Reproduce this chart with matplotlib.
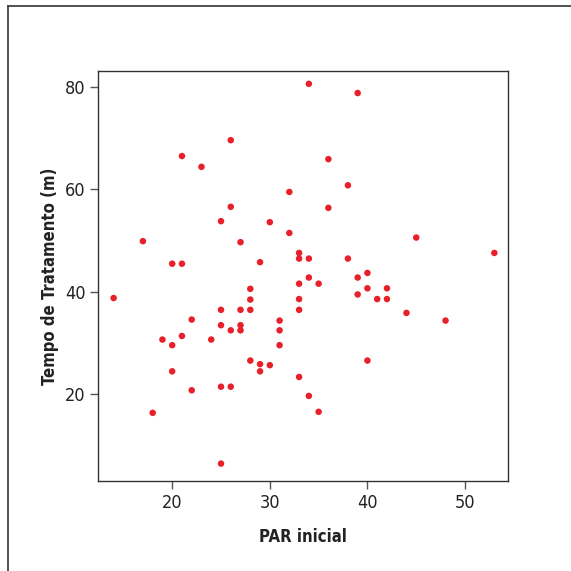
import matplotlib
matplotlib.use("Agg")
import matplotlib.pyplot as plt
from matplotlib.lines import Line2D

plt.rcParams['font.family'] = ['DejaVu Sans']
plt.rcParams['font.stretch'] = 'condensed'

# PAR inicial vs Tempo de Tratamento (m)
par_inicial = [26, 21, 23, 32, 26, 25, 30, 32, 17, 27, 33, 34, 39, 36, 38, 36, 45, 53,
               33, 34, 38, 40, 34, 39, 33, 35, 40, 42, 33, 39, 41, 42, 33, 44, 48, 40,
               33, 34, 35, 20, 21, 29, 14, 28, 28, 25, 27, 28, 22, 31, 25, 27, 26, 27,
               31, 19, 21, 24, 20, 31, 28, 29, 30, 29, 20, 25, 26, 22, 18, 25]
tempo = [69.6, 66.5, 64.4, 59.5, 56.6, 53.8, 53.6, 51.5, 49.9, 49.7, 47.6, 80.6, 78.8,
         65.9, 60.8, 56.4, 50.6, 47.6, 46.5, 46.5, 46.5, 43.7, 42.8, 42.8, 41.6, 41.6,
         40.7, 40.7, 38.6, 39.5, 38.6, 38.6, 36.5, 35.9, 34.4, 26.6, 23.4, 19.7, 16.6,
         45.5, 45.5, 45.8, 38.8, 40.6, 38.5, 36.5, 36.5, 36.5, 34.6, 34.4, 33.5, 33.5,
         32.5, 32.5, 32.5, 30.7, 31.4, 30.7, 29.6, 29.6, 26.6, 25.9, 25.7, 24.5, 24.5,
         21.5, 21.5, 20.8, 16.4, 6.5]
x_ticks = [20, 30, 40, 50]
y_ticks = [20, 40, 60, 80]

fig = plt.figure(figsize=(5.71, 5.71), dpi=100)
ax = fig.add_axes([98 / 571, 1 - 481 / 571, 410 / 571, 410 / 571])

ax.scatter(par_inicial, tempo, s=22, color='#e8202a', edgecolors='none', zorder=3)

ax.set_xlim(12.4, 54.4)
ax.set_ylim(3.1, 83.1)
ax.set_xticks(x_ticks)
ax.set_yticks(y_ticks)
ax.tick_params(axis='both', length=6, width=1, color='#555555', labelsize=13,
               labelcolor='#222222', pad=3)
for s in ax.spines.values():
    s.set_color('#333333')
    s.set_linewidth(1)

ax.set_xlabel('PAR inicial', fontsize=12, fontweight='bold', labelpad=12, color='#222222')
ax.set_ylabel('Tempo de Tratamento (m)', fontsize=12, fontweight='bold', labelpad=4,
              color='#222222')

# outer frame (left and top edges)
fig.add_artist(Line2D([8 / 571, 8 / 571], [0, 1 - 6 / 571], color='#444444', lw=1.3))
fig.add_artist(Line2D([8 / 571, 1], [1 - 6 / 571, 1 - 6 / 571], color='#444444', lw=1.3))

fig.savefig('out.png', dpi=100)
